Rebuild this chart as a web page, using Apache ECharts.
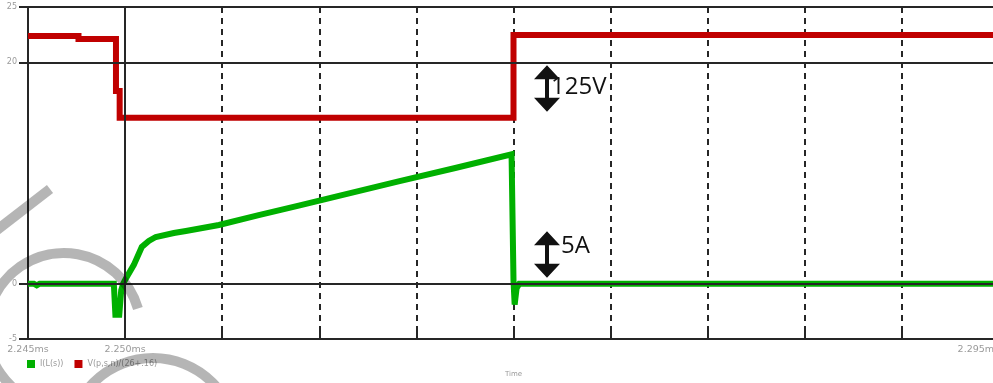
<!DOCTYPE html>
<html>
<head>
<meta charset="utf-8">
<script src="https://cdn.jsdelivr.net/npm/echarts@6/dist/echarts.min.js"></script>
<style>
  html, body { margin: 0; padding: 0; background: #fff; overflow: hidden; width: 993px; height: 383px; }
  /* the plot frame runs past the right edge of the window */
  #chart { width: 1012px; height: 383px; }
</style>
</head>
<body>
<div id="chart"></div>
<script>
// Time base in microseconds; tick labels printed in ms.
const currentTime = [2245.0, 2245.3, 2245.45, 2245.6, 2249.42, 2249.5, 2249.56, 2249.7, 2249.8, 2249.9,
  2250.05, 2250.45, 2250.86, 2251.22, 2251.58, 2252.51, 2253.13, 2254.83, 2256.88, 2258.94, 2264.08,
  2267.0, 2269.9, 2269.97, 2270.0, 2270.06, 2270.16, 2270.3, 2295.2];
const currentVal = [0, 0, -0.15, 0, 0, -2.8, -2.8, -2.8, -0.6, 0,
  0.5, 1.7, 3.32, 3.86, 4.22, 4.58, 4.76, 5.3, 6.2, 7.05, 9.25,
  10.45, 11.68, 11.75, 0.3, -1.9, -0.4, 0, 0];

// Scaled switch-node voltage (125 V per division)
const voltTime = [2245.0, 2247.6, 2247.6, 2249.53, 2249.53, 2249.72, 2249.72, 2270.0, 2270.0, 2295.2];
const voltVal = [22.37, 22.37, 22.1, 22.1, 17.4, 17.4, 15.0, 15.0, 22.46, 22.46];

const yTickLabels = [-5, 0, 20, 25];
const xTickLabels = [2245, 2250, 2295];
const majorX = [2250];
const majorY = [20, 0];
const seriesNames = ['I(L(s))', 'V(p,s,n)/(26+.16)'];

const GRID_DARK = '#262626';
const LABEL_GREY = '#9a9a9a';

const chart = echarts.init(document.getElementById('chart'));

const zip = (a, b) => a.map((v, i) => [v, b[i]]);

chart.setOption({
  animation: false,
  backgroundColor: '#ffffff',
  grid: { left: 28, top: 7, width: 971, height: 334, containLabel: false },
  legend: {
    left: 27, top: 360, padding: 0,
    itemWidth: 8, itemHeight: 8, itemGap: 11,
    icon: 'rect',
    textStyle: { fontSize: 8, color: LABEL_GREY, fontFamily: 'DejaVu Sans' },
    data: seriesNames
  },
  xAxis: [{
    type: 'value', min: 2245, max: 2295, interval: 5,
    name: 'Time', nameLocation: 'middle', nameGap: 32,
    nameTextStyle: { fontSize: 7, color: LABEL_GREY, fontFamily: 'DejaVu Sans' },
    axisLine: { show: true, onZero: false, lineStyle: { color: GRID_DARK, width: 2 } },
    axisTick: { show: true, inside: true, length: 7, lineStyle: { color: GRID_DARK, width: 2 } },
    axisLabel: {
      fontSize: 9.5, color: LABEL_GREY, margin: 6, fontFamily: 'DejaVu Sans',
      showMinLabel: true, showMaxLabel: true, alignMaxLabel: 'right',
      formatter: v => xTickLabels.includes(Math.round(v)) ? (Math.round(v) / 1000).toFixed(3) + 'ms' : ''
    },
    splitLine: { show: true, lineStyle: { type: [6, 5], color: GRID_DARK, width: 2 } }
  }, {
    type: 'value', position: 'top', min: 2245, max: 2295, interval: 5,
    axisLine: { show: true, onZero: false, lineStyle: { color: GRID_DARK, width: 2 } },
    axisTick: { show: true, inside: true, length: 6, lineStyle: { color: GRID_DARK, width: 2 } },
    axisLabel: { show: false },
    splitLine: { show: false }
  }],
  yAxis: {
    type: 'value', min: -5, max: 25, interval: 5,
    axisLine: { show: true, onZero: false, lineStyle: { color: GRID_DARK, width: 2 } },
    axisTick: { show: true, inside: false, length: 9, customValues: yTickLabels,
      lineStyle: { color: GRID_DARK, width: 2 } },
    axisLabel: { customValues: yTickLabels, fontSize: 8, color: LABEL_GREY, margin: 11,
      fontFamily: 'DejaVu Sans' },
    splitLine: { show: true, lineStyle: { type: [6, 5], color: GRID_DARK, width: 2 } }
  },
  series: [{
    // solid major grid lines
    type: 'line', data: [], z: 1, silent: true,
    markLine: {
      silent: true, symbol: ['none', 'none'], label: { show: false },
      lineStyle: { type: 'solid', color: GRID_DARK, width: 2 },
      emphasis: { disabled: true },
      data: majorX.map(v => ({ xAxis: v })).concat(majorY.map(v => ({ yAxis: v })))
    }
  }, {
    name: seriesNames[0], type: 'line', data: zip(currentTime, currentVal),
    showSymbol: false, z: 4,
    lineStyle: { color: '#00b000', width: 6, join: 'miter' },
    itemStyle: { color: '#00b000' }
  }, {
    name: seriesNames[1], type: 'line', data: zip(voltTime, voltVal),
    showSymbol: false, z: 3,
    lineStyle: { color: '#c00000', width: 6, join: 'miter' },
    itemStyle: { color: '#c00000' }
  }]
});

// Division markers with their scale text
function doubleArrow(cx, yTop, yBot) {
  const hh = 14, hw = 13, sw = 2;
  return {
    type: 'polygon', z: 50, silent: true,
    shape: { points: [
      [cx, yTop], [cx + hw, yTop + hh], [cx + sw, yTop + hh], [cx + sw, yBot - hh],
      [cx + hw, yBot - hh], [cx, yBot], [cx - hw, yBot - hh], [cx - sw, yBot - hh],
      [cx - sw, yTop + hh], [cx - hw, yTop + hh]
    ] },
    style: { fill: '#111' }
  };
}

const markTime = 2271.7;
const pV = [chart.convertToPixel({ gridIndex: 0 }, [markTime, 20]), chart.convertToPixel({ gridIndex: 0 }, [markTime, 15])];
const pA = [chart.convertToPixel({ gridIndex: 0 }, [markTime, 5]), chart.convertToPixel({ gridIndex: 0 }, [markTime, 0])];
const ax = Math.round(pV[0][0]);

const wash = 'rgba(0,0,0,0.29)';

chart.setOption({
  graphic: [
    doubleArrow(ax, pV[0][1] + 3, pV[1][1] - 6),
    { type: 'text', z: 51, silent: true, left: ax + 4, top: (pV[0][1] + pV[1][1]) / 2 - 15,
      style: { text: '125V', font: '24px "Open Sans"', fill: '#111' } },
    doubleArrow(ax, pA[0][1] + 3, pA[1][1] - 6),
    { type: 'text', z: 51, silent: true, left: ax + 14, top: (pA[0][1] + pA[1][1]) / 2 - 22,
      style: { text: '5A', font: '24px "Open Sans"', fill: '#111' } },
    { type: 'arc', z: 60, silent: true,
      shape: { cx: 64, cy: 330, r: 77, startAngle: 1.75, endAngle: 6.0, clockwise: true },
      style: { stroke: wash, fill: null, lineWidth: 10 } },
    { type: 'arc', z: 60, silent: true,
      shape: { cx: 153, cy: 442, r: 84, startAngle: 0, endAngle: Math.PI * 2, clockwise: true },
      style: { stroke: wash, fill: null, lineWidth: 10 } },
    { type: 'line', z: 60, silent: true,
      shape: { x1: -3, y1: 230, x2: 50, y2: 189 },
      style: { stroke: wash, lineWidth: 10 } }
  ]
});
</script>
</body>
</html>
